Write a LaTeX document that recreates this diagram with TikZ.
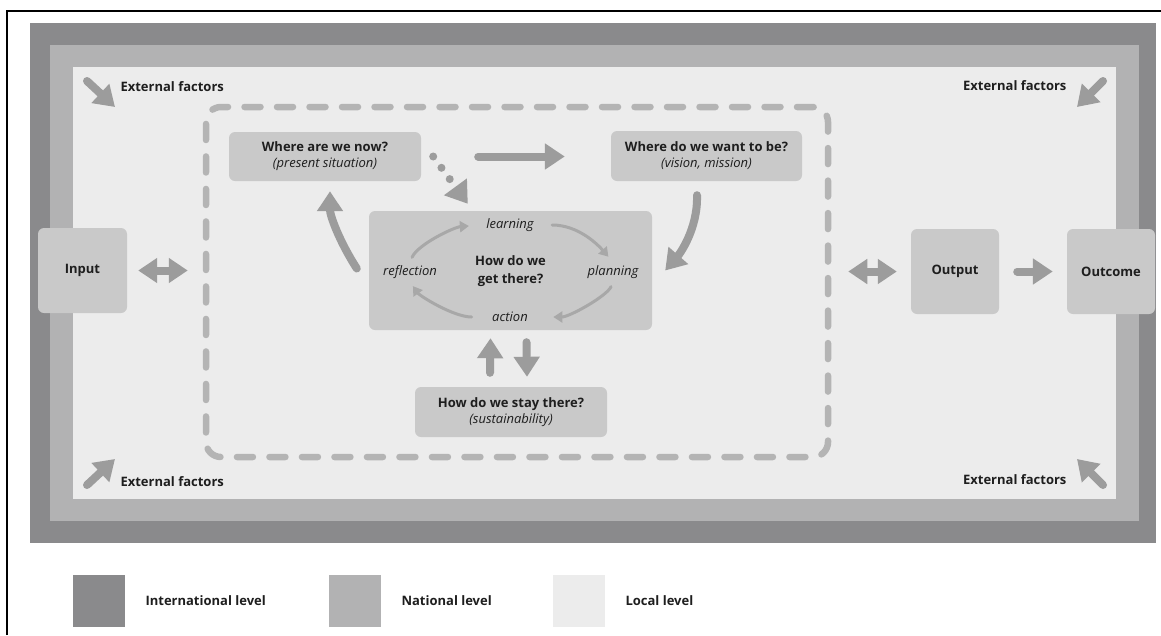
\documentclass[tikz,border=0pt]{standalone}
\usepackage{fontspec}
\setmainfont{Open Sans}
\usetikzlibrary{arrows.meta,calc}
\definecolor{intl}{HTML}{8A8A8C}
\definecolor{natl}{HTML}{B2B2B3}
\definecolor{locl}{HTML}{ECECEC}
\definecolor{boxc}{HTML}{C9C9C9}
\definecolor{arr}{HTML}{9C9C9C}
\definecolor{cycc}{HTML}{A8A8A8}
\definecolor{dsh}{HTML}{B4B4B4}
\definecolor{txt}{HTML}{1E1E1E}
\begin{document}
\begin{tikzpicture}[x=1pt,y=-1pt,
  every node/.style={text=txt, font=\fontsize{13}{16}\selectfont},
  box/.style={fill=boxc, rounded corners=6pt, align=center, inner sep=0pt},
  bold/.style={font=\fontsize{13}{16}\selectfont\bfseries},
  legtext/.style={font=\fontsize{13}{16}\selectfont\bfseries, anchor=west},
  ital/.style={font=\fontsize{13}{16}\selectfont\itshape},
  bigarrow/.style={draw=arr, line width=8pt, line cap=round, -{Triangle[length=20pt,width=25pt]}},
  bigdouble/.style={draw=arr, line width=8pt, {Triangle[length=19pt,width=24pt]}-{Triangle[length=19pt,width=24pt]}},
  cycarrow/.style={draw=cycc, line width=3pt, line cap=round, -{Triangle[length=9pt,width=11pt]}},
  dotarrow/.style={draw=arr, line width=8pt, line cap=round, dash pattern=on 0pt off 14pt, -{Triangle[length=21pt,width=27pt]}},
  legsq/.style={minimum size=52pt, inner sep=0pt},
]
\useasboundingbox (0,0) rectangle (1161,635);
% levels
\fill[intl] (30,23) rectangle (1156,543);
\fill[natl] (50,45) rectangle (1139,521);
\fill[locl] (73,67) rectangle (1116,499);
% frame
\draw[line width=2pt] (7,635) -- (7,11) -- (1161,11);

% process frame
\node[draw=dsh, line width=6.5pt, dash pattern=on 16pt off 16.5pt, line cap=round, rounded corners=15pt, minimum width=622pt, minimum height=350pt, inner sep=0pt] (proc) at (517,282) {};

% boxes
\node[box, minimum width=192pt, minimum height=49pt] (now) at (325,156.5) {\textbf{Where are we now?}\\\textit{(present situation)}};
\node[box, minimum width=191pt, minimum height=50pt] (want) at (706.5,156) {\textbf{Where do we want to be?}\\\textit{(vision, mission)}};
\node[box, minimum width=283pt, minimum height=119pt] (center) at (510.5,270.5) {};
\node[box, minimum width=192pt, minimum height=50pt] (stay) at (511,412) {\textbf{How do we stay there?}\\\textit{(sustainability)}};
\node[box, minimum width=89pt, minimum height=85pt] (input) at (82.5,270.5) {\textbf{Input}};
\node[box, minimum width=88pt, minimum height=85pt] (output) at (955,271.5) {\textbf{Output}};
\node[box, minimum width=88pt, minimum height=85pt] (outcome) at (1111,271.5) {\textbf{Outcome}};

% cycle text
\node[bold, align=center] (how) at (510.5,271) {How do we\\[2pt]get there?};
\node[ital] (learn) at (510,225) {learning};
\node[ital] (refl) at (410,272) {reflection};
\node[ital] (plan) at (613,272) {planning};
\node[ital] (act) at (510,317) {action};

% cycle arrows
\draw[cycarrow, shorten <=5pt, shorten >=14pt] (refl.north) .. controls +(8,-18) and +(-28,2) .. (learn.west);
\draw[cycarrow, shorten <=15pt, shorten >=7pt] (learn.east) .. controls +(42,0) and +(-14,-16) .. (plan.north);
\draw[cycarrow, shorten <=5pt, shorten >=22pt] (plan.south) .. controls +(-6,14) and +(38,0) .. (act.east);
\draw[cycarrow, shorten <=17pt, shorten >=5pt] (act.west) .. controls +(-35,0) and +(10,14) .. (refl.south);

% main arrows
\draw[bigarrow, shorten <=57pt, shorten >=46pt] (now.east) -- (now.east -| want.west);
\draw[dotarrow] ($(now.east)+(12,0)$) -- ($(center.north west)+(99,-7)$);
\draw[bigarrow] ($(center.west)+(-12,-2)$) .. controls +(-18,-28) and +(0,24) .. ($(now.south)+(5,10)$);
\draw[bigarrow] ($(want.south)+(-9.5,14)$) .. controls +(1,34) and +(14,-16) .. ($(center.east)+(13,0)$);
\draw[bigarrow] ($(stay.north)+(-21,-14)$) -- ($(center.south)+(-20,8)$);
\draw[bigarrow] ($(center.south)+(16,12)$) -- ($(stay.north)+(16,-10)$);

\draw[bigdouble, shorten <=11pt, shorten >=15pt] (input.east) -- (input.east -| proc.west);
\draw[bigdouble, shorten <=17pt, shorten >=14pt] (output.west -| proc.east) -- (output.west);
\draw[bigarrow, shorten <=18pt, shorten >=14pt] (output.east) -- (outcome.west);

% external factors
\node[bold, anchor=west] (ef1) at (117,87) {External factors};
\node[bold, anchor=east] (ef2) at (1070,86) {External factors};
\node[bold, anchor=west] (ef3) at (117,482) {External factors};
\node[bold, anchor=east] (ef4) at (1070,480) {External factors};
\coordinate (ef1a) at (87,81);   \coordinate (ef1b) at (115,107);
\coordinate (ef2a) at (1103,81); \coordinate (ef2b) at (1077,107);
\coordinate (ef3a) at (87,485);  \coordinate (ef3b) at (115,459);
\coordinate (ef4a) at (1103,485);\coordinate (ef4b) at (1077,459);
\draw[bigarrow] (ef1a) -- (ef1b);
\draw[bigarrow] (ef2a) -- (ef2b);
\draw[bigarrow] (ef3a) -- (ef3b);
\draw[bigarrow] (ef4a) -- (ef4b);

% legend
\node[legsq, fill=intl] (lg1) at (99,601) {};
\node[legsq, fill=natl] (lg2) at (354.5,601) {};
\node[legsq, fill=locl] (lg3) at (578.5,601) {};
\node[legtext] (lt1) at (142,601) {International level};
\node[legtext] (lt2) at (398,601) {National level};
\node[legtext] (lt3) at (622,601) {Local level};
\end{tikzpicture}
\end{document}
